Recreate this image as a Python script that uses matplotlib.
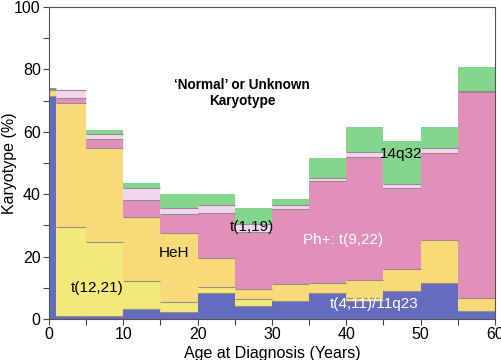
import numpy as np
import matplotlib
matplotlib.use('Agg')
import matplotlib.pyplot as plt

plt.rcParams['font.family'] = ['Liberation Sans', 'DejaVu Sans']

# 연령 구간 경계 (Years)
age_edges = [0, 1, 5, 10, 15, 20, 25, 30, 35, 40, 45, 50, 55, 60]

# 구간별 핵형 비율 (%)
t4_11 = [71.5, 1.0, 0.8, 3.1, 2.3, 8.2, 4.2, 5.9, 8.2, 5.9, 9.1, 11.4, 2.6]
t12_21 = [0.0, 28.5, 23.8, 9.1, 3.2, 1.9, 2.1, 0.0, 0.0, 0.7, 0.0, 0.0, 0.0]
heh = [1.9, 39.8, 30.3, 20.6, 22.0, 9.6, 3.3, 5.3, 3.4, 5.9, 6.9, 13.9, 4.0]
ph_pos = [0.2, 1.5, 2.7, 5.3, 6.0, 14.4, 18.4, 24.0, 32.7, 39.5, 25.9, 27.8, 66.3]
t1_19 = [0.4, 2.5, 1.6, 3.8, 2.0, 2.4, 2.6, 1.3, 1.0, 1.4, 1.3, 1.6, 0.3]
q14q32 = [0.0, 0.0, 1.4, 1.6, 4.5, 3.5, 4.9, 2.0, 6.2, 8.2, 13.8, 6.7, 7.7]

layers = [t4_11, t12_21, heh, ph_pos, t1_19, q14q32]
colors = ['#666cbd', '#f1e97a', '#f8da78', '#e191b9', '#f1d6ef', '#84d68d']

fig = plt.figure(figsize=(5.02, 3.60), dpi=100)
ax = fig.add_axes([0.0976, 0.1139, 0.8884, 0.8667])

left = np.array(age_edges[:-1], dtype=float)
width = np.diff(age_edges)
bottom = np.zeros(len(left))
for i, (vals, c) in enumerate(zip(layers, colors)):
    vals = np.array(vals)
    ax.bar(left, vals, width=width, bottom=bottom, align='edge', color=c, linewidth=0)
    bottom = bottom + vals
    # 층 사이 경계선
    if i < len(layers) - 1:
        mask = vals > 0
        ax.hlines(bottom[mask], left[mask], (left + width)[mask], color='#9b8c8c', lw=0.8)

ax.set_xlim(0, 60)
ax.set_ylim(0, 100)
ax.set_xticks(range(0, 61, 10))
ax.set_xticks(range(0, 61, 5), minor=True)
ax.set_yticks(range(0, 101, 20))
ax.set_yticks(range(0, 101, 10), minor=True)
ax.tick_params(which='both', direction='out', length=4, width=0.8, color='#444444',
               labelsize=11.5, pad=2)
for s in ax.spines.values():
    s.set_color('#555555')
    s.set_linewidth(0.8)

ax.set_xlabel('Age at Diagnosis (Years)', fontsize=11.5)
ax.set_ylabel('Karyotype (%)', fontsize=11.5)
ax.xaxis.set_label_coords(0.5, -0.088)
ax.yaxis.set_label_coords(-0.072, 0.5)

# 라벨
ax.text(26, 72.5, '\u2018Normal\u2019 or Unknown\nKaryotype', ha='center', va='center',
        fontsize=9.8, fontweight='bold', linespacing=1.15)
ax.text(6.5, 10, 't(12,21)', ha='center', va='center', fontsize=11)
ax.text(16.8, 21, 'HeH', ha='center', va='center', fontsize=11)
ax.text(27.3, 29.5, 't(1,19)', ha='center', va='center', fontsize=11)
ax.text(39.6, 25.3, 'Ph+: t(9,22)', ha='center', va='center', fontsize=11, color='white')
ax.text(43.7, 4.8, 't(4,11)/11q23', ha='center', va='center', fontsize=11, color='white')
ax.text(47.4, 52.9, '14q32', ha='center', va='center', fontsize=11)

fig.savefig('out.png', dpi=100)
plt.close(fig)
